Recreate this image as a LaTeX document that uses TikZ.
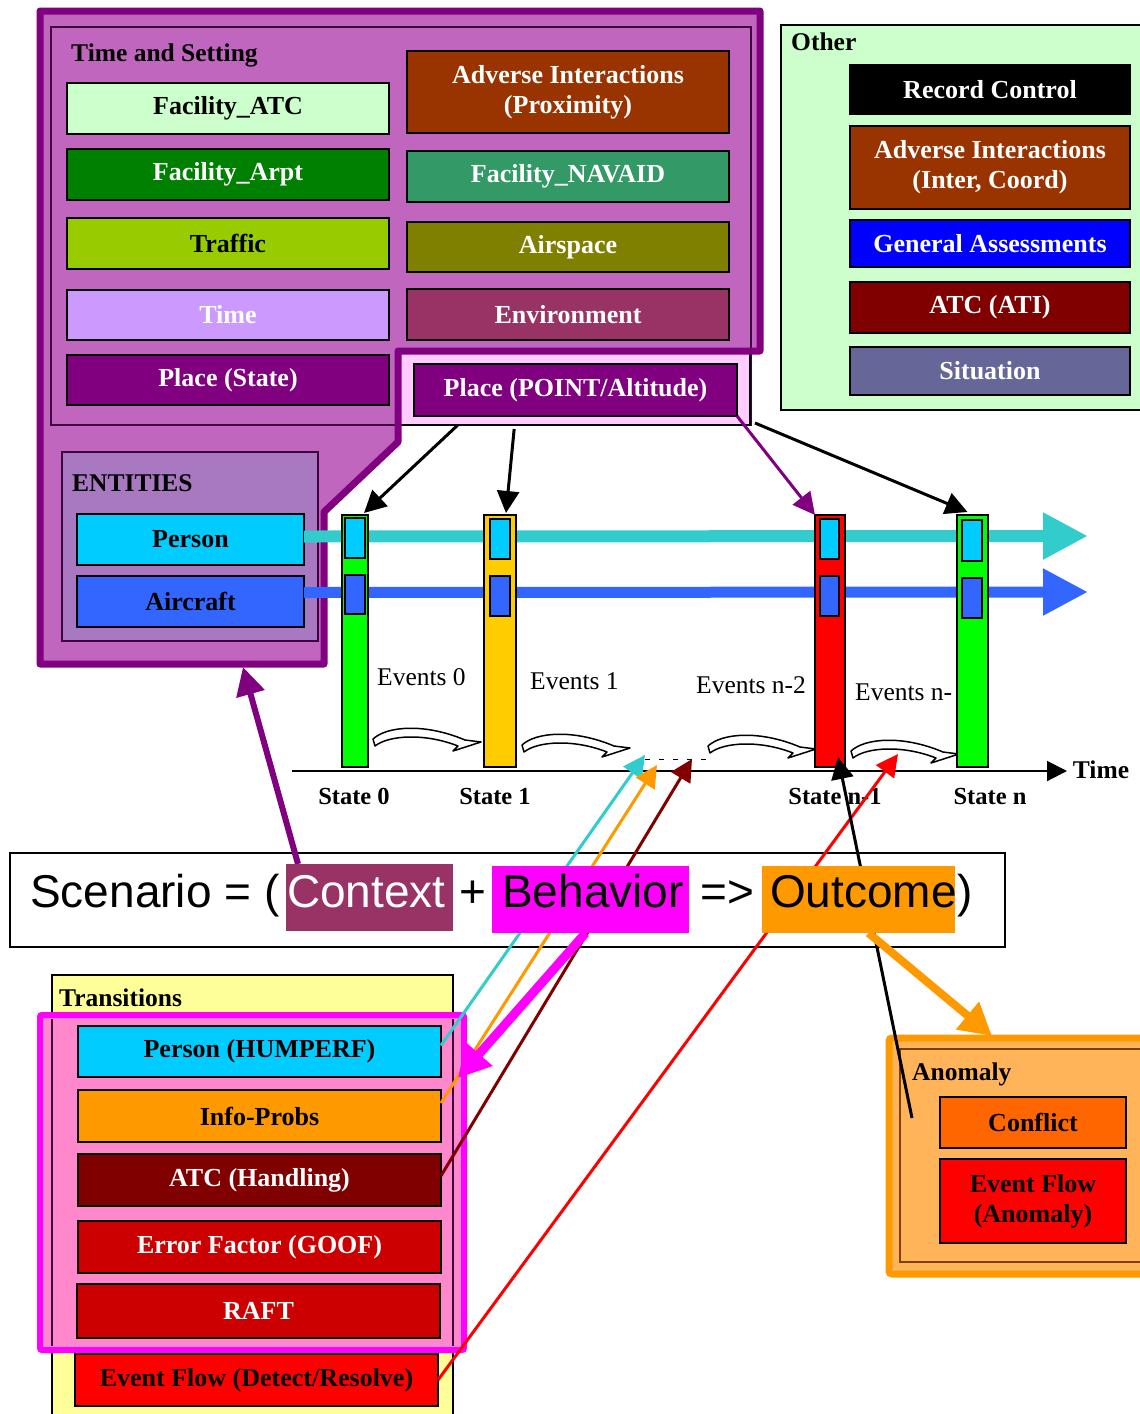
\documentclass[tikz,border=0pt]{standalone}
\usepackage{fontspec}
\setmainfont{Liberation Serif}
\newfontfamily\arialfont{Liberation Sans}
\usetikzlibrary{fit,calc,arrows.meta}

\definecolor{tsfill}{RGB}{192,102,190}
\definecolor{tsborder}{RGB}{128,0,128}
\definecolor{entfill}{RGB}{168,120,192}
\definecolor{darkpur}{RGB}{64,0,64}
\definecolor{pinkbg}{RGB}{255,204,255}
\definecolor{cMint}{RGB}{204,255,204}
\definecolor{cArpt}{RGB}{0,128,0}
\definecolor{cTraffic}{RGB}{153,204,0}
\definecolor{cLilac}{RGB}{204,153,255}
\definecolor{cPlum}{RGB}{128,0,128}
\definecolor{cBrown}{RGB}{153,51,0}
\definecolor{cSea}{RGB}{51,153,102}
\definecolor{cOlive}{RGB}{128,128,0}
\definecolor{cRose}{RGB}{153,51,102}
\definecolor{cSky}{RGB}{0,204,255}
\definecolor{cRoyal}{RGB}{51,102,255}
\definecolor{cTeal}{RGB}{51,204,204}
\definecolor{cOrange}{RGB}{255,153,0}
\definecolor{cMaroon}{RGB}{128,0,0}
\definecolor{cCrimson}{RGB}{204,0,0}
\definecolor{cRed}{RGB}{255,0,0}
\definecolor{cBlaze}{RGB}{255,102,0}
\definecolor{cBlue}{RGB}{0,0,255}
\definecolor{cSlate}{RGB}{102,102,153}
\definecolor{cMagenta}{RGB}{255,0,255}
\definecolor{cGreen}{RGB}{0,255,0}
\definecolor{cGold}{RGB}{255,204,0}
\definecolor{cPale}{RGB}{255,255,153}
\definecolor{cPinkFrame}{RGB}{255,136,204}
\definecolor{cAnomFill}{RGB}{255,180,90}
\definecolor{cAnomLine}{RGB}{128,64,0}

% filled, outlined box spanning two corners, with its bold label centred on it
% #1 name, #2-#5 corners, #6 fill, #7 text colour, #8 label
\newcommand{\cbox}[8]{%
  \node[box,fill=#6,fit={(#2,#3) (#4,#5)}] (#1) {};
  \node[boxtxt,text=#7] (#1-t) at (#1.center) {#8};}
% two-line label
\newcommand{\twoline}[2]{\begin{tabular}{@{}c@{}}#1\\#2\end{tabular}}

\tikzset{
  bendarr/.pic={
    \draw[line width=1.5pt, fill=white, line join=round]
      (0,2) .. controls (14,-11) and (52,-14) .. (92,3) -- (108,5) -- (80,14) -- (85,9)
      .. controls (52,-4) and (16,-2) .. (2,9) -- cycle;
  }
}

\begin{document}
\begin{tikzpicture}[x=1pt,y=-1pt,
  box/.style={draw=black, line width=1.6pt, inner sep=0pt, outer sep=0pt},
  boxtxt/.style={inner sep=0pt, font=\bfseries\fontsize{26}{30}\selectfont},
  zone/.style={inner sep=0pt, outer sep=0pt},
  hdr/.style={font=\bfseries\fontsize{25.5}{29}\selectfont, inner sep=0pt, anchor=base west},
  evt/.style={font=\fontsize{25.5}{29}\selectfont, inner sep=0pt, anchor=base west},
  stl/.style={font=\bfseries\fontsize{24.5}{28}\selectfont, inner sep=0pt, anchor=base},
  sc/.style={font=\arialfont\fontsize{46}{50}\selectfont, inner sep=0pt, anchor=base west},
  barbox/.style={draw=black, line width=1.5pt, inner sep=0pt, outer sep=0pt},
  conn/.style={line width=3pt, -{Triangle[length=22pt,width=22pt]}},
  heavy/.style={-{Triangle[length=32pt,width=34pt]}},
]
\useasboundingbox (0,0) rectangle (1140,1414);
\fill[white] (0,0) rectangle (1140,1414);

% ---------------- Time and Setting ----------------
\fill[tsfill] (40,11) -- (760,11) -- (760,351) -- (398,351) -- (398,442) -- (324,512)
  -- (324,664) -- (40,664) -- cycle;
\draw[line width=1.2pt, darkpur] (51,27) rectangle (751,425);
\node[zone, draw=black, line width=1.5pt, fill=pinkbg, fit={(398,351) (750,425)}] (placebg) {};
\draw[line width=7pt, tsborder, line join=round] (40,11) -- (760,11) -- (760,351) -- (398,351)
  -- (398,442) -- (324,512) -- (324,664) -- (40,664) -- cycle;
\node[hdr] (tslbl) at (71,61) {Time and Setting};

\cbox{facatc}{67}{83}{389}{134}{cMint}{black}{Facility\_ATC}
\cbox{facarpt}{67}{149}{389}{200}{cArpt}{white}{Facility\_Arpt}
\cbox{traffic}{67}{218}{389}{269}{cTraffic}{black}{Traffic}
\cbox{timebox}{67}{290}{389}{340}{cLilac}{white}{Time}
\cbox{placest}{67}{355}{389}{405}{cPlum}{white}{Place (State)}
\cbox{advprox}{407}{51}{729}{133}{cBrown}{white}{\twoline{Adverse Interactions}{(Proximity)}}
\cbox{navaid}{407}{151}{729}{202}{cSea}{white}{Facility\_NAVAID}
\cbox{airspace}{407}{222}{729}{272}{cOlive}{white}{Airspace}
\cbox{environ}{407}{289}{729}{340}{cRose}{white}{Environment}
\cbox{placept}{414}{364}{737}{416}{cPlum}{white}{Place (POINT/Altitude)}

% ---------------- Entities ----------------
\node[zone, draw=darkpur, line width=1.2pt, fill=entfill, fit={(62,452) (318,641)}] (entities) {};
\node[hdr] (entlbl) at (72,491) {ENTITIES};
\cbox{person}{77}{514}{304}{565}{cSky}{black}{Person}
\cbox{aircraft}{77}{576}{304}{627}{cRoyal}{black}{Aircraft}

% ---------------- Other ----------------
\node[zone, draw=black, line width=1.5pt, fill=cMint, fit={(781,25) (1160,410)}] (other) {};
\node[hdr] (othlbl) at (791,50) {Other};
\cbox{recctl}{850}{65}{1130}{114}{black}{white}{Record Control}
\cbox{advic}{850}{126}{1130}{209}{cBrown}{white}{\twoline{Adverse Interactions}{(Inter, Coord)}}
\cbox{genas}{850}{220}{1130}{267}{cBlue}{white}{General Assessments}
\cbox{atcati}{850}{282}{1130}{333}{cMaroon}{white}{ATC (ATI)}
\cbox{situ}{850}{347}{1130}{395}{cSlate}{white}{Situation}

% ---------------- Entity timelines ----------------
\coordinate (cyanend) at (1088,536);
\coordinate (blueend) at (1088,592);
\draw[line width=12pt, cTeal, -{Triangle[length=45pt,width=44pt]}] ($(person.east)+(0,-3)$) -- (cyanend);
\draw[line width=11pt, cRoyal, -{Triangle[length=45pt,width=44pt]}] ($(aircraft.east)+(0,-9)$) -- (blueend);

% transition glyphs between states
\pic at (373,737) {bendarr};
\pic at (522,743) {bendarr};
\pic at (708,744) {bendarr};
\pic at (851,749) {bendarr};

% state bars
\node[barbox, fill=cGreen, fit={(342,515) (368,767)}] (bar0) {};
\node[barbox, fill=cSky, fit={(345,518) (365,558)}] (bar0p) {};
\node[barbox, fill=cRoyal, fit={(345,575) (365,614)}] (bar0a) {};
\node[barbox, fill=cGold, fit={(484,515) (516,767)}] (bar1) {};
\node[barbox, fill=cSky, fit={(490,519) (510,559)}] (bar1p) {};
\node[barbox, fill=cRoyal, fit={(490,576) (510,616)}] (bar1a) {};
\node[barbox, fill=cRed, fit={(815,515) (845,767)}] (bar2) {};
\node[barbox, fill=cSky, fit={(820,519) (839,559)}] (bar2p) {};
\node[barbox, fill=cRoyal, fit={(820,576) (839,616)}] (bar2a) {};
\node[barbox, fill=cGreen, fit={(957,515) (988,767)}] (bar3) {};
\node[barbox, fill=cSky, fit={(962,520) (982,561)}] (bar3p) {};
\node[barbox, fill=cRoyal, fit={(962,578) (982,618)}] (bar3a) {};

% time axis
\coordinate (axs) at (292,771);
\coordinate (axe) at (1067,771);
\draw[line width=2pt, -{Triangle[length=20pt,width=20pt]}] (axs) -- (axe);
\node[hdr, anchor=base] (timelbl) at (1101,778) {Time};
\coordinate (dashs) at (645,759);
\coordinate (dashe) at (706,759);
\draw[line width=1pt, dash pattern=on 5pt off 9pt] (dashs) -- (dashe);

\node[evt] (ev0) at (377,685) {Events 0};
\node[evt] (ev1) at (530,689) {Events 1};
\node[evt] (ev2) at (696,693) {Events n-2};
\node[evt] (ev3) at (855,700) {Events n-};

\node[stl] (st0) at (354,804) {State 0};
\node[stl] (st1) at (495,804) {State 1};
\node[stl] (st2) at (835,804) {State n-1};
\node[stl] (st3) at (990,804) {State n};

% ---------------- Scenario equation frame ----------------
\node[zone, draw=black, line width=1.5pt, fill=white, fit={(10,853) (1005,947)}] (scen) {};

% ---------------- Transitions ----------------
\node[zone, draw=black, line width=1.5pt, fill=cPale, fit={(52,975) (453,1440)}] (trans) {};
\node[hdr] (translbl) at (59,1006) {Transitions};
\node[zone, fill=cPinkFrame, fit={(40,1015) (464,1350)}] (tframe) {};
\draw[line width=1.2pt, darkpur] (52,1019) -- (52,1346) (453,1019) -- (453,1346);
\draw[line width=6pt, cMagenta, rounded corners=2pt] (tframe.north west) rectangle (tframe.south east);
\cbox{tperson}{78}{1026}{441}{1077}{cSky}{black}{Person (HUMPERF)}
\cbox{tinfo}{78}{1090}{441}{1142}{cOrange}{black}{Info-Probs}
\cbox{tatc}{78}{1154}{441}{1206}{cMaroon}{white}{ATC (Handling)}
\cbox{terror}{78}{1221}{441}{1273}{cCrimson}{white}{Error Factor (GOOF)}
\cbox{traft}{77}{1284}{440}{1338}{cCrimson}{white}{RAFT}
\cbox{tflow}{75}{1354}{438}{1406}{cRed}{black}{Event Flow (Detect/Resolve)}

% ---------------- Anomaly ----------------
\node[zone, fill=cAnomFill, draw=cOrange, line width=7pt, rounded corners=3pt,
      fit={(889,1038) (1170,1274)}] (anom) {};
\draw[line width=1.2pt, cAnomLine] (900,1049) rectangle (1170,1262);
\node[hdr] (anomlbl) at (912,1080) {Anomaly};
\cbox{conflict}{940}{1097}{1126}{1148}{cBlaze}{black}{Conflict}
\cbox{evanom}{940}{1159}{1126}{1243}{cRed}{black}{\twoline{Event Flow}{(Anomaly)}}

% ---------------- Connectors ----------------
\draw[conn] ($(placebg.south west)!0.17!(placebg.south east)$) -- ($(bar0.north east)+(-4,-2)$);
\draw[conn] ($(placebg.south west)!0.33!(placebg.south east)+(0,4)$) -- ($(bar1.north)+(6,-2)$);
\draw[conn, cPlum] (placept.south east) -- (bar2.north west);
\draw[conn] ($(placebg.south east)+(5,-2)$) -- ($(bar3.north)+(-5,-3)$);

\coordinate (tipc) at (645,755);
\coordinate (tipo) at (657,765);
\coordinate (tipm) at (692,759);
\coordinate (tipr) at (898,754);
\coordinate (anomref) at (912,1118);
\draw[conn, cTeal] ($(tperson.north east)!0.38!(tperson.south east)$) -- (tipc);
\draw[conn, cOrange] ($(tinfo.north east)!0.25!(tinfo.south east)$) -- (tipo);
\draw[conn, cMaroon] ($(tatc.north east)!0.42!(tatc.south east)$) -- (tipm);
\draw[conn, cRed] (tflow.east) -- (tipr);
\draw[conn, black] (anomref) -- ($(bar2.south)+(8,-10)$);

% ---------------- Scenario equation ----------------
\node[zone, fill=cRose, fit={(286,864) (453,931)}] (ctx) {};
\node[zone, fill=cMagenta, fit={(492,866) (689,933)}] (beh) {};
\node[zone, fill=cOrange, fit={(762,866) (955,933)}] (outc) {};

\coordinate (ctxtip) at (243,667);
\coordinate (behtip) at (458,1078);
\coordinate (outtip) at (992,1036);
\draw[line width=6pt, cPlum, -{Triangle[length=28pt,width=28pt]}] ($(ctx.north west)+(12,0)$) -- (ctxtip);
\draw[line width=9pt, cMagenta, heavy] ($(beh.south)+(-5,0)$) -- (behtip);
\draw[line width=8pt, cOrange, heavy] ($(outc.south)+(10,0)$) -- (outtip);
\fill[cRose] (ctx.north west) rectangle (ctx.south east);
\fill[cMagenta] (beh.north west) rectangle (beh.south east);
\fill[cOrange] (outc.north west) rectangle (outc.south east);

\node[sc] (sctxt) at (30,907) {Scenario = (};
\node[sc, text=white] (ctxtxt) at (287,907) {Context};
\node[sc, anchor=base] (plus) at (473,907) {+};
\node[sc] (behtxt) at (502,907) {Behavior};
\node[sc, anchor=base] (impl) at (727,907) {=>};
\node[sc] (outtxt) at (770,907) {Outcome};
\node[sc] (closep) at (957,907) {)};
\end{tikzpicture}
\end{document}
